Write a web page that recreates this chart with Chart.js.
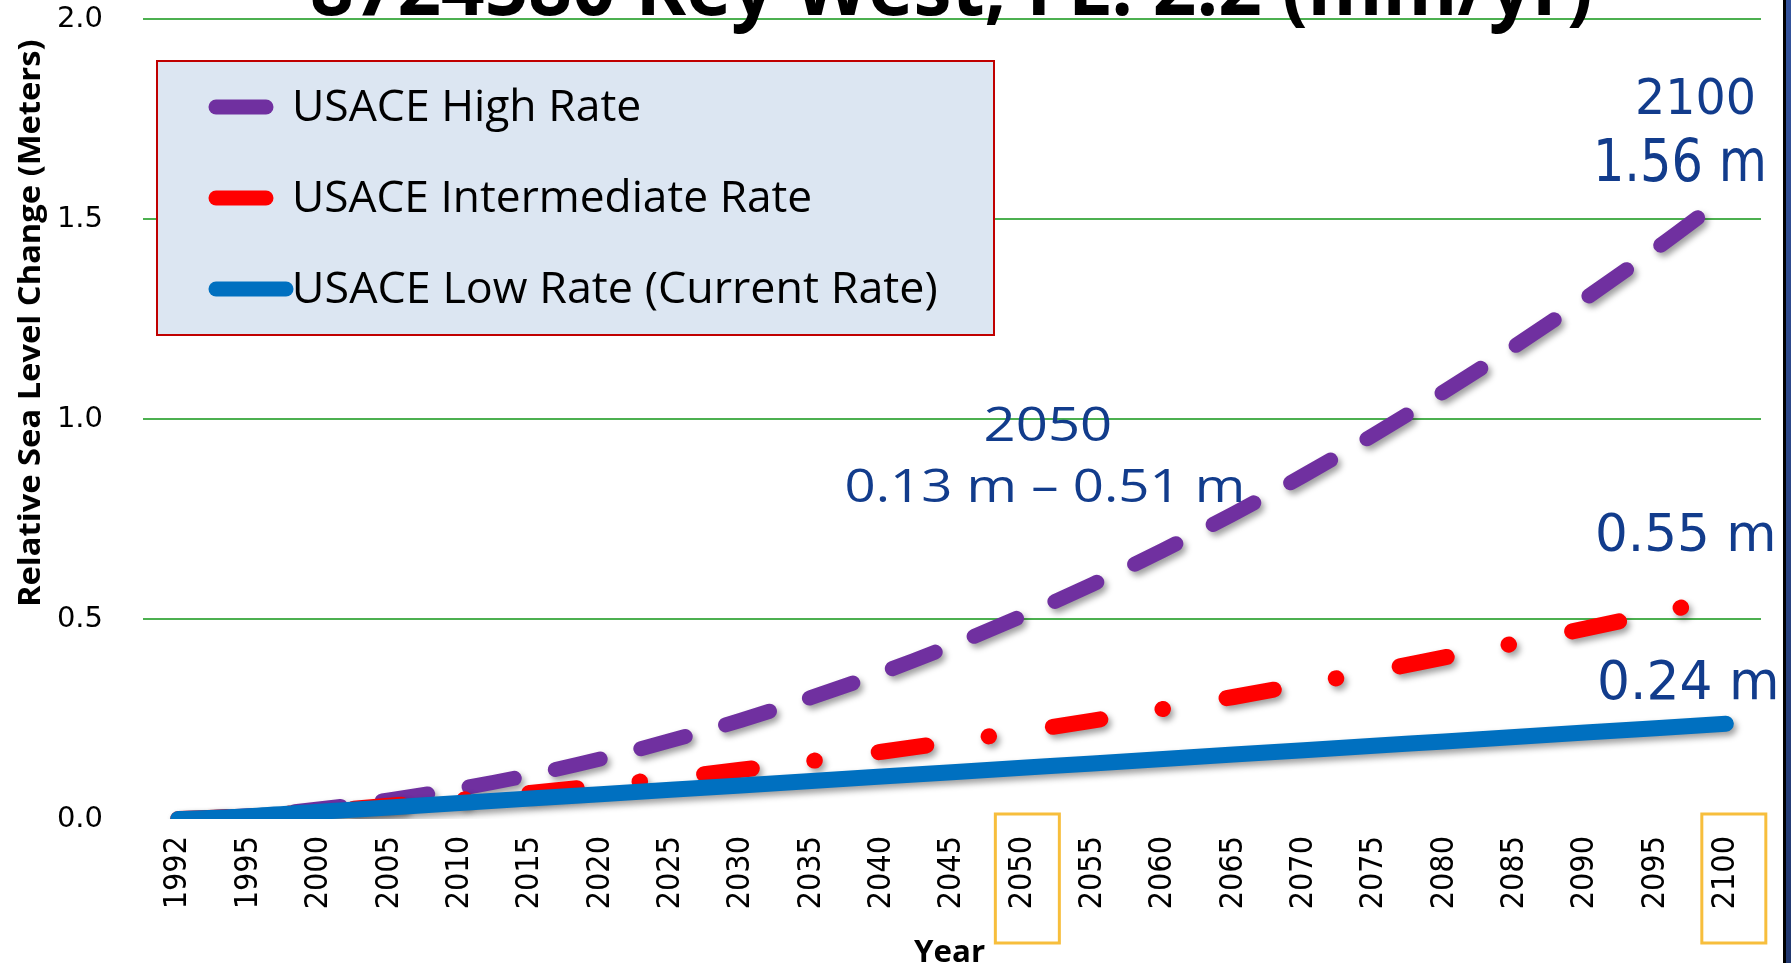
<!DOCTYPE html>
<html>
<head>
<meta charset="utf-8">
<script src="https://cdn.jsdelivr.net/npm/chart.js@4.4.1/dist/chart.umd.min.js"></script>
<style>
  html, body { margin: 0; padding: 0; background: #fff; }
</style>
</head>
<body>
<canvas id="slrChart" width="1791" height="963"></canvas>
<script>
// Years on the x axis (category axis, evenly spaced)
const years = ['1992', '1995', '2000', '2005', '2010', '2015', '2020', '2025', '2030', '2035', '2040',
    '2045', '2050', '2055', '2060', '2065', '2070', '2075', '2080', '2085', '2090', '2095', '2100'];

// Relative sea level change in meters
const highRate = [0, 0.008, 0.025, 0.048, 0.076, 0.110, 0.150, 0.196, 0.247, 0.304, 0.366, 0.434,
    0.508, 0.587, 0.672, 0.763, 0.859, 0.961, 1.069, 1.182, 1.301, 1.425, 1.556];
const intermediateRate = [0, 0.007, 0.019, 0.033, 0.048, 0.065, 0.083, 0.102, 0.123, 0.145, 0.168, 0.193,
    0.219, 0.246, 0.275, 0.305, 0.337, 0.369, 0.404, 0.439, 0.476, 0.514, 0.554];
const lowRate = [0, 0.007, 0.018, 0.029, 0.040, 0.051, 0.062, 0.073, 0.084, 0.095, 0.106, 0.117,
    0.128, 0.139, 0.150, 0.161, 0.172, 0.183, 0.194, 0.205, 0.216, 0.227, 0.238];

const seriesNames = ['USACE High Rate', 'USACE Intermediate Rate', 'USACE Low Rate (Current Rate)'];
const yTickValues = [0, 0.5, 1.0, 1.5, 2.0];
const yTickLabels = ['0.0', '0.5', '1.0', '1.5', '2.0'];
const highlightYears = ['2050', '2100'];

const titleText = '8724580 Key West, FL: 2.2 (mm/yr)';
const yTitle = 'Relative Sea Level Change (Meters)';
const xTitle = 'Year';

const colors = { high: '#7030A0', mid: '#FF0000', low: '#0070C0', note: '#123C8C', grid: '#4CB050' };

// draw text squeezed/stretched to a given ink width
function drawFitted(ctx, text, x, y, width, font, color, rotate) {
    ctx.save();
    ctx.font = font;
    ctx.fillStyle = color;
    ctx.textAlign = 'left';
    ctx.textBaseline = 'alphabetic';
    const m = ctx.measureText(text);
    const inkW = m.actualBoundingBoxLeft + m.actualBoundingBoxRight;
    ctx.translate(x, y);
    if (rotate) ctx.rotate(-Math.PI / 2);
    ctx.scale(width / inkW, 1);
    ctx.fillText(text, m.actualBoundingBoxLeft, 0);
    ctx.restore();
}

const backgroundPlugin = {
    id: 'slideBackground',
    beforeDraw(chart) {
        const ctx = chart.ctx;
        ctx.save();
        ctx.fillStyle = '#ffffff';
        ctx.fillRect(0, 0, chart.width, chart.height);
        // edge of the slide on the right
        const g = ctx.createLinearGradient(0, 0, 0, chart.height);
        g.addColorStop(0, '#34539c');
        g.addColorStop(1, '#22386f');
        ctx.fillStyle = g;
        ctx.fillRect(1786, 0, 5, chart.height);
        ctx.fillStyle = '#000000';
        ctx.fillRect(1783, 0, 3, chart.height);
        ctx.restore();
    }
};

const shadowPlugin = {
    id: 'lineShadow',
    beforeDatasetDraw(chart) {
        const ctx = chart.ctx;
        ctx.save();
        ctx.shadowColor = 'rgba(0, 0, 0, 0.38)';
        ctx.shadowBlur = 6;
        ctx.shadowOffsetX = 3;
        ctx.shadowOffsetY = 4;
    },
    afterDatasetDraw(chart) {
        chart.ctx.restore();
    }
};

const legendPlugin = {
    id: 'boxLegend',
    afterDraw(chart) {
        const ctx = chart.ctx;
        ctx.save();
        ctx.fillStyle = '#DCE6F2';
        ctx.fillRect(157, 61, 837, 274);
        ctx.strokeStyle = '#C00000';
        ctx.lineWidth = 2;
        ctx.strokeRect(157, 61, 837, 274);

        const sampleColors = [colors.high, colors.mid, colors.low];
        const rows = [107, 198, 289];
        const sampleEnd = [273, 273, 293];
        const textW = [344, 515, 641];
        ctx.lineCap = 'round';
        ctx.lineWidth = 15;
        rows.forEach((y, i) => {
            ctx.strokeStyle = sampleColors[i];
            ctx.beginPath();
            ctx.moveTo(216, y);
            ctx.lineTo(sampleEnd[i] - 7, y);
            ctx.stroke();
            drawFitted(ctx, seriesNames[i], 295, y + 14, textW[i], '43px "Open Sans"', '#000000');
        });
        ctx.restore();
    }
};

const notesPlugin = {
    id: 'notes',
    afterDraw(chart) {
        const ctx = chart.ctx;
        // title, cut by the top edge
        drawFitted(ctx, titleText, 312, 15, 1278, 'bold 80px "Open Sans"', '#000000');
        // axis titles
        drawFitted(ctx, yTitle, 40, 605, 565, 'bold 31px "Open Sans"', '#000000', true);
        drawFitted(ctx, xTitle, 914, 962, 71, 'bold 31px "Open Sans"', '#000000');

        // value call-outs
        drawFitted(ctx, '2100', 1638, 114, 115, '49px "DejaVu Sans"', colors.note);
        drawFitted(ctx, '1.56 m', 1598, 181, 165, '58px "DejaVu Sans"', colors.note);
        drawFitted(ctx, '0.55 m', 1598, 551, 175, '52px "DejaVu Sans"', colors.note);
        drawFitted(ctx, '0.24 m', 1600, 699, 176, '53px "DejaVu Sans"', colors.note);
        drawFitted(ctx, '2050', 986, 441, 124, '47px "Open Sans"', colors.note);
        drawFitted(ctx, '0.13 m \u2013 0.51 m', 847, 502, 395, '45px "Open Sans"', colors.note);

        // boxes round the highlighted year labels
        const xScale = chart.scales.x;
        const shift = [5, 8];
        ctx.save();
        ctx.strokeStyle = '#F7BE3C';
        ctx.lineWidth = 3;
        highlightYears.forEach((yr, i) => {
            const cx = xScale.getPixelForValue(years.indexOf(yr)) + shift[i];
            ctx.strokeRect(cx - 32, 814, 64, 129);
        });
        ctx.restore();
    }
};

const lineStyle = {
    fill: false,
    pointRadius: 0,
    pointHoverRadius: 0,
    borderCapStyle: 'round',
    borderJoinStyle: 'round',
    cubicInterpolationMode: 'monotone'
};

document.addEventListener('DOMContentLoaded', () => {
    const ctx = document.getElementById('slrChart');
    new Chart(ctx, {
        type: 'line',
        data: {
            labels: years,
            datasets: [
                Object.assign({
                    label: seriesNames[0],
                    data: highRate,
                    borderColor: colors.high,
                    borderWidth: 15,
                    borderDash: [46, 42],
                    borderDashOffset: 59,
                    order: 2
                }, lineStyle),
                Object.assign({
                    label: seriesNames[1],
                    data: intermediateRate,
                    borderColor: colors.mid,
                    borderWidth: 16,
                    borderDash: [48, 63, 0.5, 64.5],
                    order: 1
                }, lineStyle),
                Object.assign({
                    label: seriesNames[2],
                    data: lowRate,
                    borderColor: colors.low,
                    borderWidth: 16,
                    order: 0
                }, lineStyle)
            ]
        },
        options: {
            responsive: false,
            animation: false,
            devicePixelRatio: 1,
            layout: { padding: { top: 19, right: 30, bottom: 0, left: 0 } },
            plugins: {
                legend: { display: false },
                tooltip: { enabled: false },
                title: { display: false }
            },
            scales: {
                x: {
                    type: 'category',
                    offset: true,
                    grid: { display: false, drawTicks: false },
                    border: { display: false },
                    ticks: {
                        autoSkip: false,
                        minRotation: 90,
                        maxRotation: 90,
                        padding: 17,
                        color: '#000000',
                        font: { family: '"DejaVu Sans Condensed", "DejaVu Sans"', size: 32 }
                    },
                    afterFit: (scale) => { scale.height = 144; }
                },
                y: {
                    min: 0,
                    max: 2,
                    grid: {
                        color: (c) => (c.tick && c.tick.value === 0 ? 'rgba(0,0,0,0)' : colors.grid),
                        lineWidth: 2,
                        drawTicks: false
                    },
                    border: { display: false },
                    afterBuildTicks: (scale) => { scale.ticks = yTickValues.map(v => ({ value: v })); },
                    ticks: {
                        padding: 40,
                        color: '#000000',
                        font: { family: '"DejaVu Sans"', size: 29 },
                        callback: (v, i) => yTickLabels[i]
                    },
                    afterFit: (scale) => {
                        scale.width = 143;
                        scale.paddingTop = 0;
                        scale.paddingBottom = 0;
                    }
                }
            }
        },
        plugins: [backgroundPlugin, shadowPlugin, legendPlugin, notesPlugin]
    });
});
</script>
</body>
</html>
